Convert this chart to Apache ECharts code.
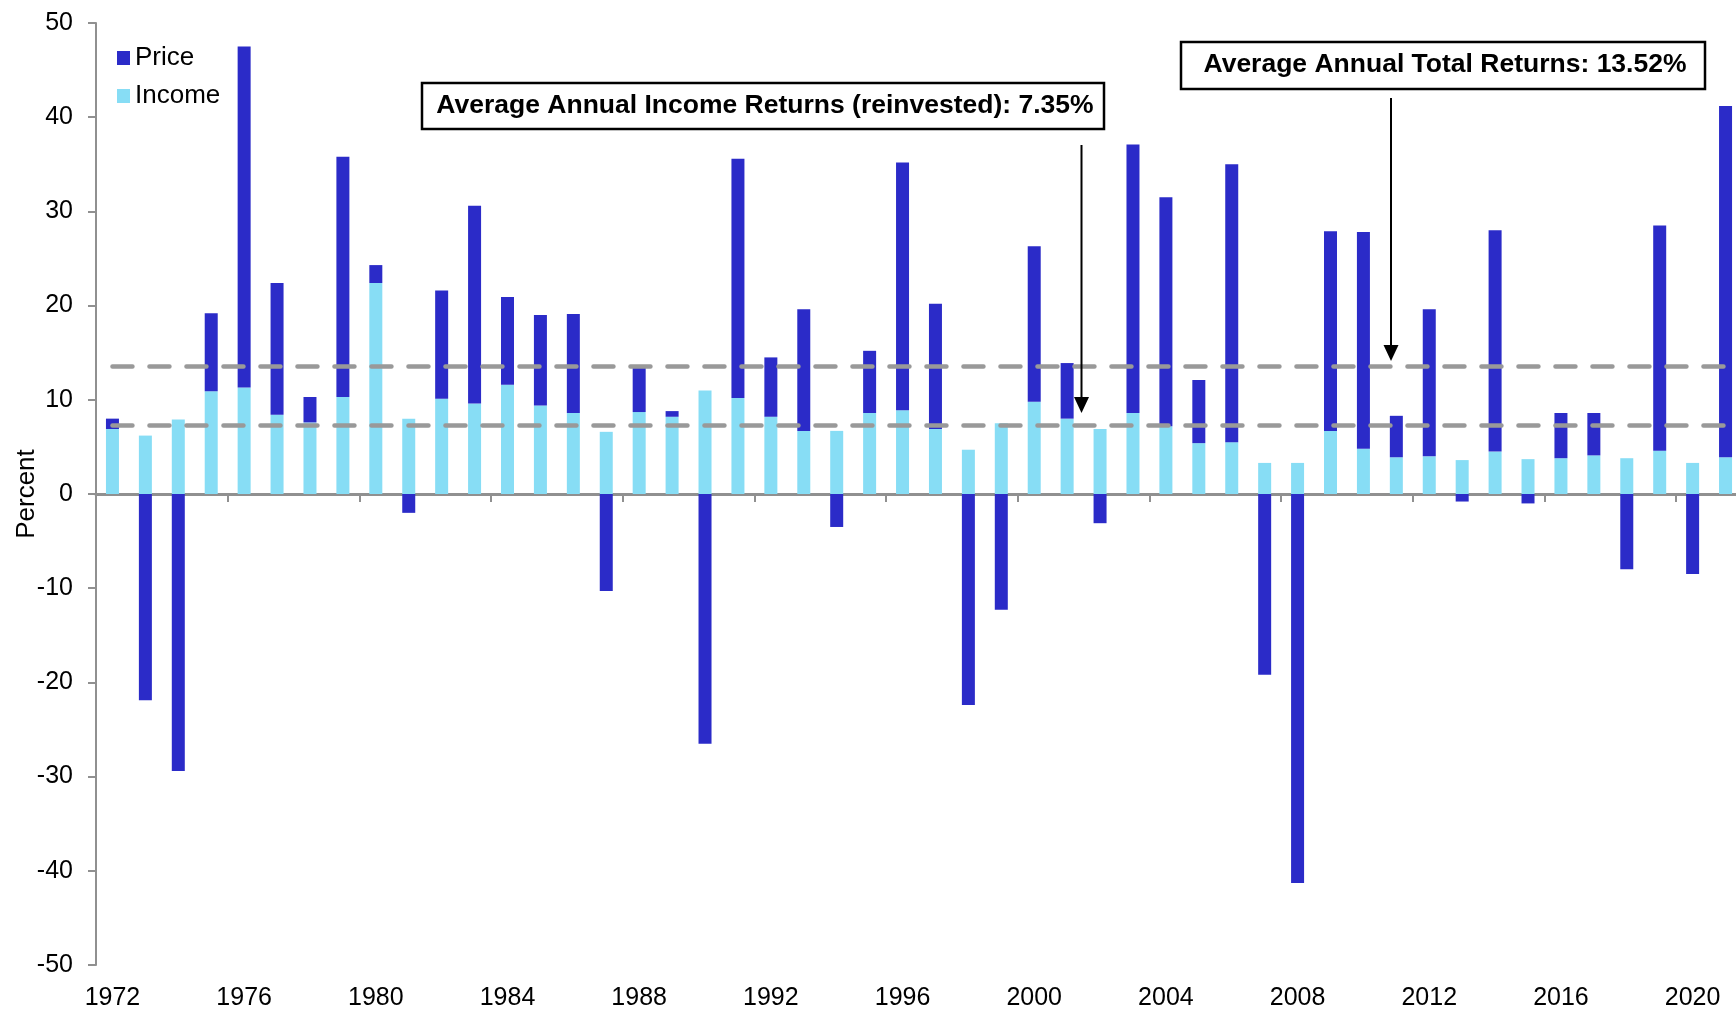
<!DOCTYPE html>
<html>
<head>
<meta charset="utf-8">
<script src="https://cdn.jsdelivr.net/npm/echarts@6/dist/echarts.min.js"></script>
<style>
html, body { margin: 0; padding: 0; background: #fff; }
#chart { width: 1736px; height: 1010px; }
</style>
</head>
<body>
<div id="chart"></div>
<script>
const years = ['1972','1973','1974','1975','1976','1977','1978','1979','1980','1981',
  '1982','1983','1984','1985','1986','1987','1988','1989','1990','1991',
  '1992','1993','1994','1995','1996','1997','1998','1999','2000','2001',
  '2002','2003','2004','2005','2006','2007','2008','2009','2010','2011',
  '2012','2013','2014','2015','2016','2017','2018','2019','2020','2021'];

// income return (reinvested), percent
const income = [6.9, 6.2, 7.9, 10.9, 11.3, 8.4, 7.6, 10.3, 22.4, 8.0,
  10.1, 9.6, 11.6, 9.4, 8.6, 6.6, 8.7, 8.2, 11.0, 10.2,
  8.2, 6.7, 6.7, 8.6, 8.9, 6.9, 4.7, 7.5, 9.8, 8.0,
  6.9, 8.6, 7.2, 5.4, 5.5, 3.3, 3.3, 6.7, 4.8, 3.9,
  4.0, 3.6, 4.5, 3.7, 3.8, 4.1, 3.8, 4.6, 3.3, 3.9];

// price return, percent
const price = [1.1, -21.9, -29.4, 8.3, 36.2, 14.0, 2.7, 25.5, 1.9, -2.0,
  11.5, 21.0, 9.3, 9.6, 10.5, -10.3, 4.7, 0.6, -26.5, 25.4,
  6.3, 12.9, -3.5, 6.6, 26.3, 13.3, -22.4, -12.3, 16.5, 5.9,
  -3.1, 28.5, 24.3, 6.7, 29.5, -19.2, -41.3, 21.2, 23.0, 4.4,
  15.6, -0.8, 23.5, -1.0, 4.8, 4.5, -8.0, 23.9, -8.5, 37.3];

const avgIncome = 7.35;
const avgTotal = 13.52;
const yTicks = [-50, 50, 10]; // min, max, step

const FONT = "'Liberation Sans', Arial, sans-serif";
const AXIS_GREY = '#909090';

const chart = echarts.init(document.getElementById('chart'));

function avgLine(v) {
  return [{ coord: [years[0], v] }, { coord: [years[years.length - 1], v] }];
}

const option = {
  animation: false,
  textStyle: { fontFamily: FONT, color: '#000' },
  grid: { left: 96, right: -6, top: 23, bottom: 45, outerBoundsMode: 'none', containLabel: false },
  legend: {
    orient: 'vertical',
    left: 117,
    top: 45,
    padding: 0,
    itemWidth: 13,
    itemHeight: 14,
    itemGap: 12,
    icon: 'rect',
    data: ['Price', 'Income'],
    textStyle: { fontFamily: FONT, fontSize: 26, color: '#000' }
  },
  xAxis: [
    {
      type: 'category',
      data: years,
      axisLine: { onZero: true, lineStyle: { color: AXIS_GREY, width: 3 } },
      axisTick: { show: true, interval: 3, length: 8, lineStyle: { color: AXIS_GREY, width: 2 } },
      axisLabel: { show: false }
    },
    {
      type: 'category',
      data: years,
      position: 'bottom',
      axisLine: { show: false, onZero: false },
      axisTick: { show: false },
      axisLabel: { interval: 3, margin: 21, fontSize: 25, color: '#000', fontFamily: FONT }
    }
  ],
  yAxis: {
    type: 'value',
    min: yTicks[0],
    max: yTicks[1],
    interval: yTicks[2],
    name: 'Percent',
    nameLocation: 'middle',
    nameGap: 56,
    nameMoveOverlap: false,
    nameTextStyle: { fontSize: 26, color: '#000', fontFamily: FONT },
    axisLine: { show: true, lineStyle: { color: AXIS_GREY, width: 2 } },
    axisTick: { show: true, length: 8, lineStyle: { color: AXIS_GREY, width: 2 } },
    axisLabel: { margin: 23, fontSize: 25, color: '#000', fontFamily: FONT },
    splitLine: { show: false }
  },
  series: [
    {
      name: 'Income',
      type: 'bar',
      stack: 'ret',
      barWidth: 13,
      data: income,
      itemStyle: { color: '#87DDF5' },
      markLine: {
        silent: true,
        symbol: ['none', 'none'],
        label: { show: false },
        lineStyle: { color: '#999', width: 4.5, type: [20, 17], cap: 'round' },
        data: [avgLine(avgTotal), avgLine(avgIncome)]
      }
    },
    {
      name: 'Price',
      type: 'bar',
      stack: 'ret',
      barWidth: 13,
      data: price,
      itemStyle: { color: '#2B2BC8' }
    }
  ],
  graphic: [
    {
      type: 'rect',
      shape: { x: 422, y: 83, width: 682, height: 46 },
      style: { fill: '#fff', stroke: '#000', lineWidth: 2.5 },
      z: 10
    },
    {
      type: 'text',
      x: 765, y: 106,
      style: {
        text: 'Average Annual Income Returns (reinvested): 7.35%',
        font: "bold 26.5px " + FONT, fill: '#000',
        align: 'center', verticalAlign: 'middle'
      },
      z: 11
    },
    {
      type: 'rect',
      shape: { x: 1181, y: 42, width: 524, height: 47 },
      style: { fill: '#fff', stroke: '#000', lineWidth: 2.5 },
      z: 10
    },
    {
      type: 'text',
      x: 1445, y: 65,
      style: {
        text: 'Average Annual Total Returns: 13.52%',
        font: "bold 26.5px " + FONT, fill: '#000',
        align: 'center', verticalAlign: 'middle'
      },
      z: 11
    },
    {
      type: 'line',
      shape: { x1: 1081.5, y1: 145, x2: 1081.5, y2: 400 },
      style: { stroke: '#000', lineWidth: 2 },
      z: 10
    },
    {
      type: 'polygon',
      shape: { points: [[1074, 397], [1089, 397], [1081.5, 413]] },
      style: { fill: '#000' },
      z: 10
    },
    {
      type: 'line',
      shape: { x1: 1391, y1: 98, x2: 1391, y2: 348 },
      style: { stroke: '#000', lineWidth: 2 },
      z: 10
    },
    {
      type: 'polygon',
      shape: { points: [[1383.5, 345], [1398.5, 345], [1391, 361]] },
      style: { fill: '#000' },
      z: 10
    }
  ]
};

chart.setOption(option);
window.addEventListener('resize', () => chart.resize());
</script>
</body>
</html>
